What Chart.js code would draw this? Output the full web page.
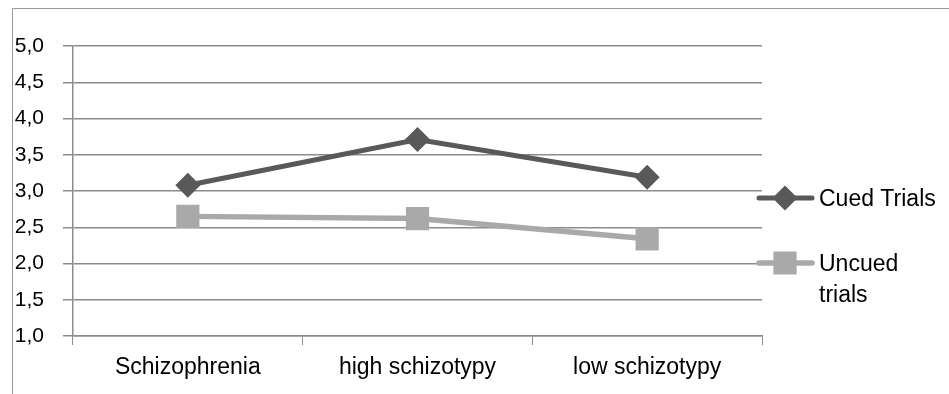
<!DOCTYPE html>
<html>
<head>
<meta charset="utf-8">
<script src="https://cdn.jsdelivr.net/npm/chart.js@4/dist/chart.umd.min.js"></script>
<style>
  html, body { margin: 0; padding: 0; background: #fff; }
  #wrap { width: 949px; height: 394px; position: relative; }
</style>
</head>
<body>
<div id="wrap"><canvas id="chart" width="949" height="394"></canvas></div>
<script>
// Data
const groups = ["Schizophrenia", "high schizotypy", "low schizotypy"];
const cuedTrials = [3.08, 3.71, 3.19];
const uncuedTrials = [2.65, 2.62, 2.34];
const seriesNames = ["Cued Trials", ["Uncued", "trials"]];

const FONT = "'Liberation Sans', Arial, sans-serif";
const GRID = "#8c8c8c";

// Frame + custom legend (wraps "Uncued trials" like the original)
const frameLegend = {
  id: "frameLegend",
  beforeDraw(chart) {
    const ctx = chart.ctx;
    ctx.save();
    ctx.strokeStyle = "#999";
    ctx.lineWidth = 1;
    ctx.beginPath();
    ctx.moveTo(12.5, 394);
    ctx.lineTo(12.5, 8.5);
    ctx.lineTo(949, 8.5);
    ctx.stroke();
    ctx.restore();
  },
  afterDraw(chart) {
    const ctx = chart.ctx;
    const rows = [198, 263];
    ctx.save();
    chart.data.datasets.forEach((ds, i) => {
      const y = rows[i];
      ctx.strokeStyle = ds.borderColor;
      ctx.lineWidth = ds.borderWidth;
      ctx.lineCap = "round";
      ctx.beginPath();
      ctx.moveTo(759, y);
      ctx.lineTo(812, y);
      ctx.stroke();
      ctx.fillStyle = ds.pointBackgroundColor;
      ctx.strokeStyle = ds.pointBorderColor;
      Chart.helpers.drawPoint(ctx, {
        pointStyle: ds.pointStyle,
        radius: ds.pointRadius,
        rotation: 0,
        borderWidth: 1
      }, 785, y);
      ctx.fillStyle = "#000";
      ctx.font = "23px " + FONT;
      ctx.textBaseline = "middle";
      const lines = [].concat(seriesNames[i]);
      lines.forEach((t, k) => ctx.fillText(t, 819, y + 2 + k * 31));
    });
    ctx.restore();
  }
};

new Chart(document.getElementById("chart"), {
  type: "line",
  data: {
    labels: groups,
    datasets: [
      {
        label: "Cued Trials",
        data: cuedTrials,
        borderColor: "#595959",
        borderWidth: 5,
        pointStyle: "rectRot",
        pointRadius: 9,
        pointBackgroundColor: "#595959",
        pointBorderColor: "#595959",
        tension: 0
      },
      {
        label: "Uncued trials",
        data: uncuedTrials,
        borderColor: "#a9a9a9",
        borderWidth: 5.5,
        pointStyle: "rect",
        pointRadius: 12.5,
        pointBackgroundColor: "#a9a9a9",
        pointBorderColor: "#a9a9a9",
        tension: 0
      }
    ]
  },
  options: {
    responsive: false,
    animation: false,
    layout: { padding: { left: 0, top: 46, right: 187, bottom: 0 } },
    plugins: { legend: { display: false }, tooltip: { enabled: false } },
    scales: {
      x: {
        offset: true,
        grid: { offset: true, drawOnChartArea: false, color: GRID, tickLength: 9 },
        border: { color: GRID, width: 1.5 },
        ticks: { color: "#000", font: { family: FONT, size: 23 }, padding: 9 },
        afterFit(s) { s.height = 58; }
      },
      y: {
        min: 1, max: 5,
        grid: { color: GRID, lineWidth: 1.5, tickLength: 10 },
        border: { color: GRID, width: 1.5 },
        ticks: {
          stepSize: 0.5,
          color: "#000",
          font: { family: FONT, size: 21 },
          padding: 19,
          callback: v => v.toFixed(1).replace(".", ",")
        },
        afterFit(s) { s.width = 73; }
      }
    }
  },
  plugins: [frameLegend]
});
</script>
</body>
</html>
